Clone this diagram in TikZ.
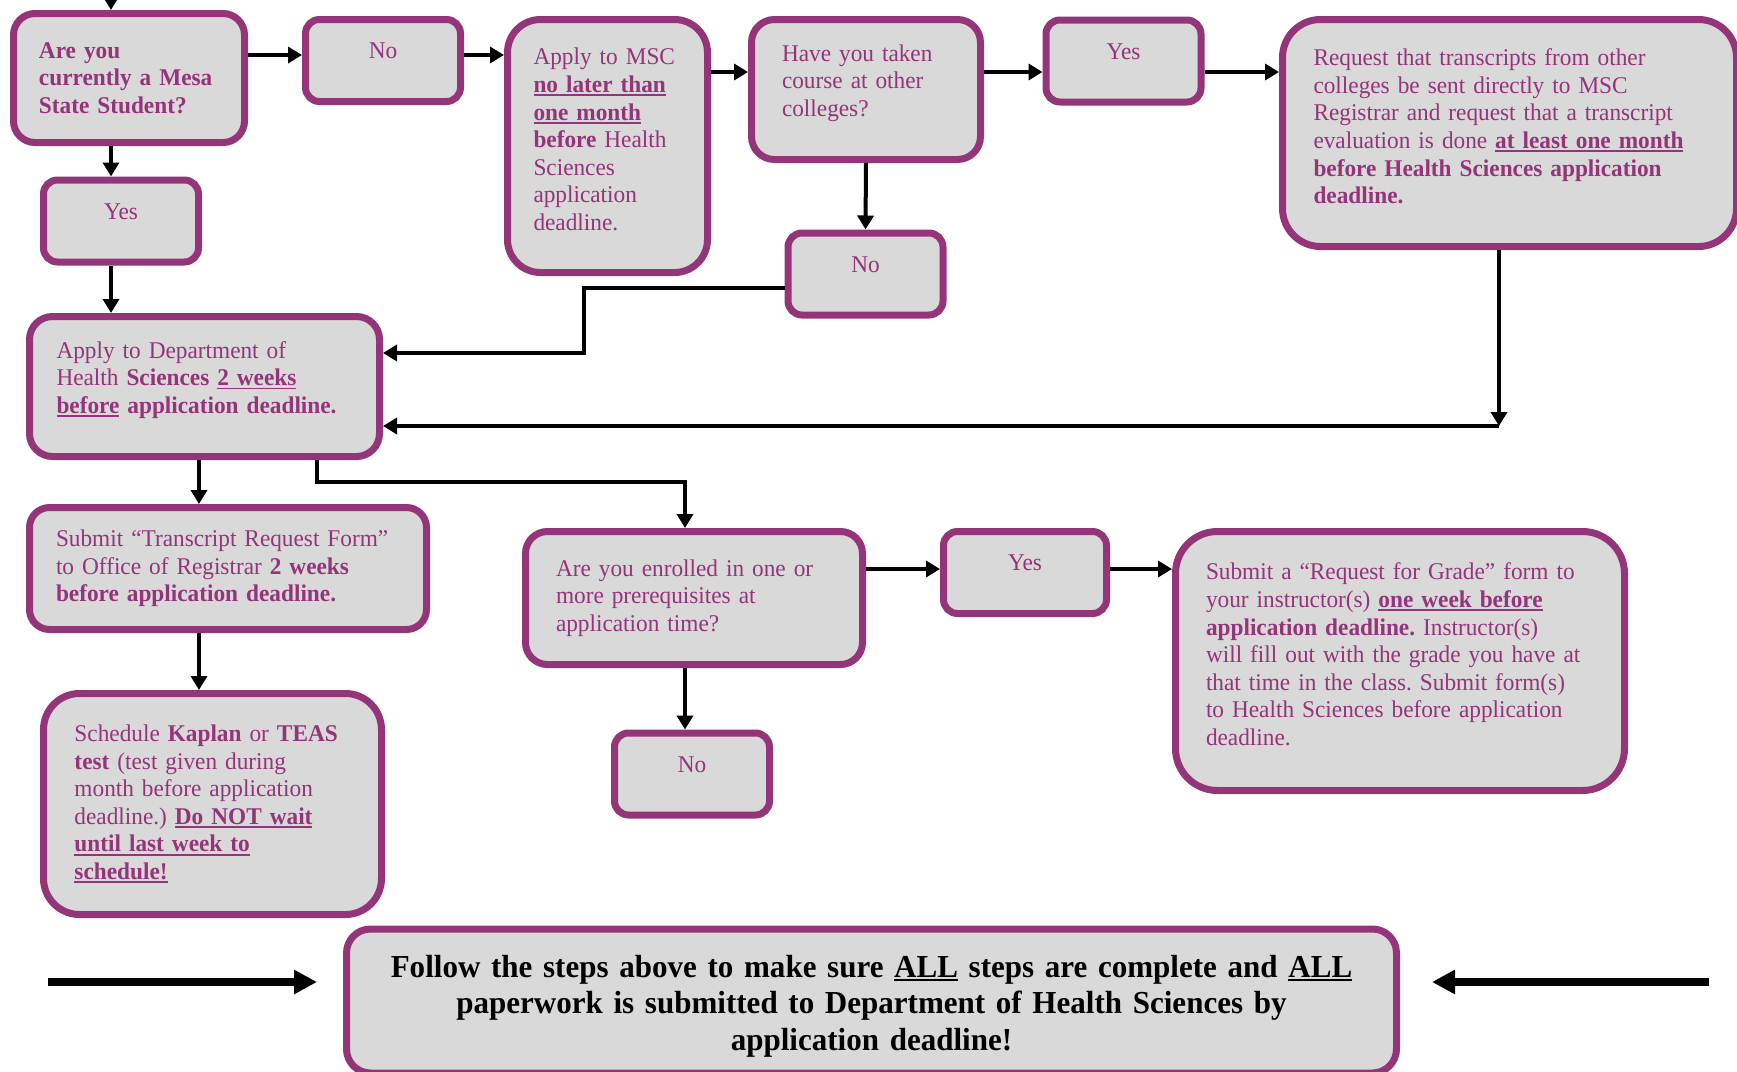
\documentclass[tikz,border=0pt]{standalone}
\usepackage{fontspec}
\setmainfont{Liberation Serif}[FakeStretch=0.97]
\usepackage{tikz}
\usetikzlibrary{arrows.meta}
\definecolor{hsplum}{HTML}{943479}
\definecolor{hsgray}{HTML}{D9D9D9}
\newsavebox{\ulbox}
\newcommand{\uln}[1]{\leavevmode\sbox{\ulbox}{#1}\rlap{\rule[-1.8pt]{\wd\ulbox}{0.9pt}}\usebox{\ulbox}}
\newcommand{\liftpad}{\par\nointerlineskip\rule{0pt}{6.5pt}}
\frenchspacing

\begin{document}
\begin{tikzpicture}[x=0.5pt,y=-0.5pt,>={Triangle[length=7pt,width=8pt]},
      box/.style={draw=hsplum,fill=hsgray,line width=3.5pt,inner sep=0pt,align=left,
        text=hsplum,font=\fontsize{12}{13.8}\selectfont},
      lift/.style={execute at end node=\liftpad},
      drop/.style={execute at begin node=\rule{0pt}{16pt}},
      ans/.style={box,align=center,text height=8pt,text depth=10pt,minimum width=77.5pt,
        minimum height=41pt,rounded corners=7pt},
      link/.style={->,line width=2pt},
      big/.style={-{Triangle[length=11.5pt,width=11.5pt]},line width=4pt}]
	\useasboundingbox (0,0) rectangle (1737,1072);

	\node[box,minimum width=115.5pt,minimum height=64.5pt,text width=90pt,rounded corners=10.75pt,
      font=\fontsize{12}{13.8}\selectfont\bfseries] (mesa) at (129,78)
      {Are you\\currently a Mesa\\State Student?};
	\node[ans] (no1) at (383,60.5) {No};
	\node[box,lift,minimum width=100pt,minimum height=126.5pt,text width=74pt,rounded corners=16.5pt] (msc) at (607.5,146)
      {Apply to MSC\\\uln{\textbf{no later than}}\\\uln{\textbf{one month}}\\\textbf{before} Health\\Sciences\\application\\deadline.};
	\node[box,lift,minimum width=114.5pt,minimum height=70pt,text width=84pt,rounded corners=11.5pt] (colleges) at (866,89.5)
      {Have you taken\\course at other\\colleges?};
	\node[ans] (yes2) at (1123.5,61) {Yes};
	\node[box,lift,minimum width=227pt,minimum height=113.5pt,text width=196pt,rounded corners=19pt] (trans) at (1509.5,133)
      {Request that transcripts from other\\colleges be sent directly to MSC\\Registrar and request that a transcript\\evaluation is done \uln{\textbf{at least one month}}\\\textbf{before Health Sciences application}\\\textbf{deadline.}};
	\node[ans] (yes1) at (121,221) {Yes};
	\node[ans] (no2) at (865.5,274) {No};
	\node[box,lift,minimum width=175pt,minimum height=70pt,text width=148pt,rounded corners=11.5pt] (dept) at (204.5,386.5)
      {Apply to Department of\\Health \textbf{Sciences} \uln{\textbf{2 weeks}}\\\uln{\textbf{before}} \textbf{application deadline.}};
	\node[box,minimum width=198.5pt,minimum height=61pt,text width=172pt,rounded corners=10pt] (form) at (228,568.5)
      {Submit “Transcript Request Form”\\to Office of Registrar \textbf{2 weeks}\\\textbf{before application deadline.}};
	\node[box,minimum width=169pt,minimum height=110.5pt,text width=138pt,rounded corners=18pt] (kaplan) at (212.5,804)
      {Schedule \textbf{Kaplan} or \textbf{TEAS}\\\textbf{test} (test given during\\month before application\\deadline.) \uln{\textbf{Do NOT wait}}\\\uln{\textbf{until last week to}}\\\uln{\textbf{schedule!}}};
	\node[box,minimum width=168.5pt,minimum height=66.5pt,text width=138pt,rounded corners=11pt] (enrolled) at (694,598)
      {Are you enrolled in one or\\more prerequisites at\\application time?};
	\node[ans,minimum width=81.5pt] (yes3) at (1025,572.5) {Yes};
	\node[box,lift,minimum width=224.5pt,minimum height=129.5pt,text width=194pt,rounded corners=21pt] (grade) at (1400,661)
      {Submit a “Request for Grade” form to\\your instructor(s) \uln{\textbf{one week before}}\\\textbf{application deadline.} Instructor(s)\\will fill out with the grade you have at\\that time in the class. Submit form(s)\\to Health Sciences before application\\deadline.};
	\node[ans] (no3) at (692,774) {No};
	\node[box,drop,text=black,align=center,minimum width=525pt,minimum height=72pt,text width=500pt,rounded corners=12pt,
      font=\fontsize{16}{18.3}\selectfont\bfseries] (final) at (871.5,1001)
      {Follow the steps above to make sure \uln{ALL} steps are complete and \uln{ALL}\\paperwork is submitted to Department of Health Sciences by\\application deadline!};

	\coordinate (top) at (111,0);
	\coordinate (row1) at (0,55);
	\coordinate (row2) at (0,72);
	\coordinate (lane) at (199,0);
	\coordinate (bend1) at (584,353);
	\coordinate (jn) at (1499,426);
	\coordinate (bend2) at (317,482);
	\coordinate (bend3) at (685,482);
	\coordinate (row4) at (0,569);
	\coordinate (farL) at (48,982);
	\coordinate (farR) at (1709,982);

	\draw[link] (top) -- (top |- mesa.north);
	\draw[link] (mesa.east |- row1) -- (no1.west |- row1);
	\draw[link] (no1.east |- row1) -- (msc.west |- row1);
	\draw[link] (msc.east |- row2) -- (colleges.west |- row2);
	\draw[link] (colleges.east |- row2) -- (yes2.west |- row2);
	\draw[link] (yes2.east |- row2) -- (trans.west |- row2);
	\draw[link] (mesa.south -| top) -- (yes1.north -| top);
	\draw[link] (yes1.south -| top) -- (dept.north -| top);
	\draw[link] (colleges.south) -- (no2.north);
	\draw[link] ([yshift=-7pt]no2.west) -| (bend1) -- (dept.east |- bend1);
	\draw[link] (trans.south -| jn) -- (jn);
	\draw[link] (jn) -- (dept.east |- jn);
	\draw[link] (dept.south -| lane) -- (form.north -| lane);
	\draw[link] (form.south -| lane) -- (kaplan.north -| lane);
	\draw[link] (dept.south -| bend2) -- (bend2) -- (bend3) -- (enrolled.north -| bend3);
	\draw[link] (enrolled.south -| bend3) -- (no3.north -| bend3);
	\draw[link] (enrolled.east |- row4) -- (yes3.west |- row4);
	\draw[link] (yes3.east |- row4) -- (grade.west |- row4);
	\draw[big,shorten >=13pt] (farL) -- (final.west |- farL);
	\draw[big,shorten >=16pt] (farR) -- (final.east |- farR);
\end{tikzpicture}
\end{document}
